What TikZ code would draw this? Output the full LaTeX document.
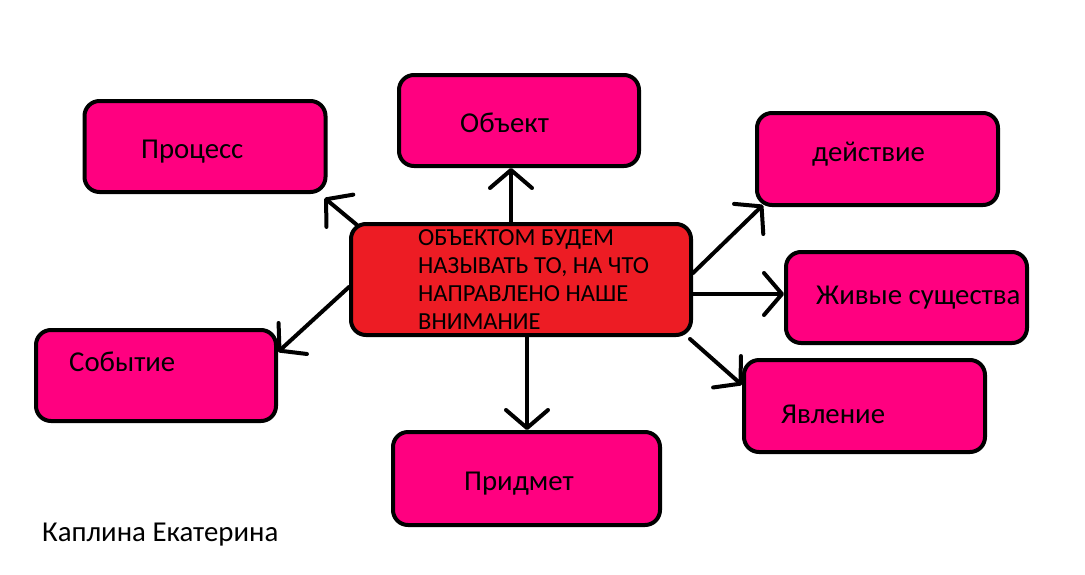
\documentclass[tikz,border=0pt]{standalone}
\usepackage{fontspec}
\setmainfont{Carlito}
\usetikzlibrary{arrows.meta}
\definecolor{pinkbox}{RGB}{255,0,128}
\definecolor{redbox}{RGB}{237,28,36}
\tikzset{
  box/.style={draw=black, line width=4pt, fill=pinkbox, rounded corners=15pt,
    inner sep=0pt, minimum width=241pt, minimum height=91pt},
  lbl/.style={anchor=west, inner sep=0pt, font=\fontsize{28.8}{32}\selectfont},
  arr/.style={draw=black, line width=4pt, line cap=round,
    -{Straight Barb[length=18pt, width=42pt, line width=4pt, round]}},
}
\begin{document}
\begin{tikzpicture}[x=1pt, y=-1pt]
\useasboundingbox (0,0) rectangle (1085,574);
\node[box] (pr) at (205,146.5) {};
\node[box, minimum width=240pt] (ob) at (519,120.5) {};
\node[box, minimum height=92pt] (de) at (877.5,159) {};
\node[box] (zh) at (906.5,297.5) {};
\node[box, minimum width=240pt] (so) at (156,375.5) {};
\node[box, minimum height=92pt] (ya) at (864.5,406) {};
\node[box, minimum width=267pt, minimum height=93pt] (pm) at (526.5,478.5) {};
\node[box, fill=redbox, minimum width=340pt, minimum height=111pt] (c) at (521,279.5) {};

\node[lbl] (tpr) at (141,152) {Процесс};
\node[lbl] (tob) at (460,123) {Объект};
\node[lbl] (tde) at (812,154) {действие};
\node[lbl] (tzh) at (816,298) {Живые существа};
\node[lbl] (tso) at (69,362) {Событие};
\node[lbl] (tya) at (781,414) {Явление};
\node[lbl] (tpm) at (464,484) {Придмет};
\node[lbl, text=black] (cap) at (42,535) {Каплина Екатерина};
\node[anchor=north west, inner sep=0pt, align=left,
  font=\fontsize{24.5}{28}\selectfont] (tc) at (418,229)
  {ОБЪЕКТОМ БУДЕМ\\НАЗЫВАТЬ ТО, НА ЧТО\\НАПРАВЛЕНО НАШЕ\\ВНИМАНИЕ};

\draw[arr] ([xshift=8pt,yshift=-3pt]c.north west) -- ([xshift=-3pt,yshift=-4pt]pr.south east);
\draw[arr] (c.north -| 511,0) -- (ob.south -| 511,0);
\draw[arr] (c.east |- 0,273) -- ([xshift=8pt,yshift=2pt]de.south west);
\draw[arr] (c.east |- 0,294) -- (zh.west |- 0,294);
\draw[arr] ([xshift=-3pt,yshift=-2pt]c.south east) -- (ya.west |- 0,385);
\draw[arr] (c.west |- 0,287) -- (so.east |- 0,352);
\draw[arr] (c.south -| 527,0) -- (pm.north -| 527,0);
\end{tikzpicture}
\end{document}
